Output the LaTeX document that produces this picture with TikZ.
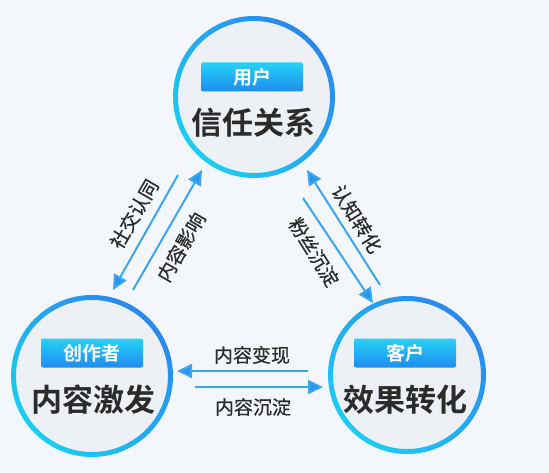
\documentclass[tikz,border=0pt]{standalone}
\usepackage{fontspec}
\newfontfamily\cjk[FakeBold=0.7]{Noto Sans CJK SC}
\newfontfamily\cjkb{Noto Sans CJK SC Bold}
\usetikzlibrary{arrows.meta}
\definecolor{bg}{HTML}{F3F6FA}
\definecolor{cfill}{HTML}{EDF1F6}
\definecolor{ringblue}{HTML}{2A88EE}
\definecolor{ringcyan}{HTML}{1CCDF2}
\definecolor{badgetop}{HTML}{26D2F6}
\definecolor{badgebot}{HTML}{1E8CF0}
\definecolor{arrowcol}{HTML}{3AA6F0}
\definecolor{txt}{HTML}{2B2B2B}
\tikzset{
  hub/.style={circle, fill=cfill, minimum size=156pt, inner sep=0pt},
  badge/.style={rounded corners=2pt, minimum width=102pt, minimum height=29pt, inner sep=0pt,
    top color=badgetop, bottom color=badgebot, text=white, font=\cjkb\fontsize{19}{19}\selectfont},
  maintxt/.style={text=txt, font=\cjkb\fontsize{31}{31}\selectfont, inner sep=0pt},
  lbl/.style={text=txt, font=\cjk\fontsize{19}{19}\selectfont, inner sep=0pt},
  flow/.style={draw=arrowcol, line width=2pt, -{Triangle[length=15pt,width=14pt,fill=ringblue!80!ringcyan]}},
}
\newcommand{\ring}[2]{%
  \shade[even odd rule, left color=ringblue, right color=ringcyan, shading angle=-45]
    (#1) circle (#2) (#1) circle (#2-5pt);}
\begin{document}
\begin{tikzpicture}[x=1pt,y=-1pt]
\fill[bg] (0,0) rectangle (549,473);
\useasboundingbox (0,0) rectangle (549,473);

% hubs
\node[hub] (top) at (254,97) {};
\node[hub] (left) at (92,376) {};
\node[hub] (right) at (407,375) {};
\ring{top}{81pt}
\ring{left}{81pt}
\ring{right}{79pt}

\node[badge] (topb) at (252,77) {用户};
\node[maintxt] (topt) at (253,123) {信任关系};
\node[badge] (leftb) at (92,353) {创作者};
\node[maintxt] (leftt) at (93,400) {内容激发};
\node[badge] (rightb) at (405,353) {客户};
\node[maintxt] (rightt) at (405,400) {效果转化};

% arrow end points
\coordinate (a1s) at (178,175); \coordinate (a1e) at (113,290);
\coordinate (a2s) at (133,290); \coordinate (a2e) at (202,170);
\coordinate (a3s) at (380,285); \coordinate (a3e) at (307,170);
\coordinate (a4s) at (303,198); \coordinate (a4e) at (373,303);
\coordinate (a5s) at (308,371); \coordinate (a5e) at (177,371);
\coordinate (a6s) at (195,387); \coordinate (a6e) at (323,387);

\draw[flow] (a1s) -- (a1e);
\draw[flow] (a2s) -- (a2e);
\draw[flow] (a3s) -- (a3e);
\draw[flow] (a4s) -- (a4e);
\draw[flow] (a5s) -- (a5e);
\draw[flow] (a6s) -- (a6e);

\node[lbl, rotate=60] (l1) at (134,214) {社交认同};
\node[lbl, rotate=60] (l2) at (181,247) {内容影响};
\node[lbl, rotate=-58] (l3) at (357,219) {认知转化};
\node[lbl, rotate=-58] (l4) at (314,252) {粉丝沉淀};
\node[lbl] (l5) at (252,355) {内容变现};
\node[lbl] (l6) at (253,407) {内容沉淀};
\end{tikzpicture}
\end{document}
